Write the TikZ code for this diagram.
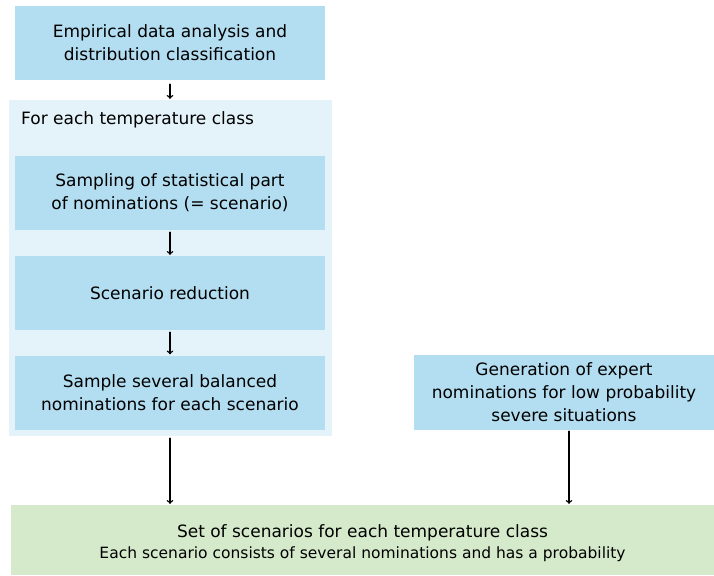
\documentclass[tikz,border=0pt]{standalone}
\usepackage{fontspec}
\setmainfont{DejaVu Sans}
\usetikzlibrary{positioning}
\definecolor{boxblue}{HTML}{B3DDF0}
\definecolor{panelblue}{HTML}{E4F2FA}
\definecolor{boxgreen}{HTML}{D5EACB}
\tikzset{
  stepbox/.style={fill=boxblue, minimum width=310pt, minimum height=74pt,
    align=center, inner sep=0pt, font=\fontsize{17}{23}\selectfont},
  panelbox/.style={fill=panelblue, inner sep=0pt},
  resultbox/.style={fill=boxgreen, inner sep=0pt, align=center},
  flow/.style={->, line width=1.4pt, shorten <=2pt, shorten >=1pt}
}
\begin{document}
\begin{tikzpicture}[x=1pt,y=-1pt,>=to, line join=round, line cap=round]
  \useasboundingbox (0,0) rectangle (714,575);
  % Rahmen fuer die Temperaturklassen
  \node[panelbox, minimum width=323pt, minimum height=336pt] (panel) at (170.5,268) {};
  \node[anchor=west, inner sep=0pt, font=\fontsize{17}{23}\selectfont] (paneltitle) at (21,120) {For each temperature class};
  \node[stepbox] (empirical) at (170,43) {Empirical data analysis and\\distribution classification};
  \node[stepbox] (sampling) at (170,193) {Sampling of statistical part\\of nominations (= scenario)};
  \node[stepbox] (reduction) at (170,293) {Scenario reduction};
  \node[stepbox] (balanced) at (170,392.5) {Sample several balanced\\nominations for each scenario};
  \node[stepbox, minimum width=300pt, minimum height=75pt] (expert) at (564,392.5) {Generation of expert\\nominations for low probability\\severe situations};
  \node[resultbox, minimum width=703pt, minimum height=70pt] (result) at (362.5,540) {};
  \node[align=center, inner sep=0pt] (resulttext) at (362.5,543)
    {{\fontsize{17}{21}\selectfont Set of scenarios for each temperature class}\\[5pt]
     {\fontsize{15.5}{19}\selectfont Each scenario consists of several nominations and has a probability}};
  % Pfeile
  \draw[flow, shorten <=4pt] (empirical) -- (empirical.south |- panel.north);
  \draw[flow] (sampling) -- (reduction);
  \draw[flow] (reduction) -- (balanced);
  \draw[flow] (panel.south -| balanced.south) -- (balanced.south |- result.north);
  \draw[flow, shorten <=1pt] ([xshift=5pt]expert.south) -- ([xshift=5pt]expert.south |- result.north);
\end{tikzpicture}
\end{document}
